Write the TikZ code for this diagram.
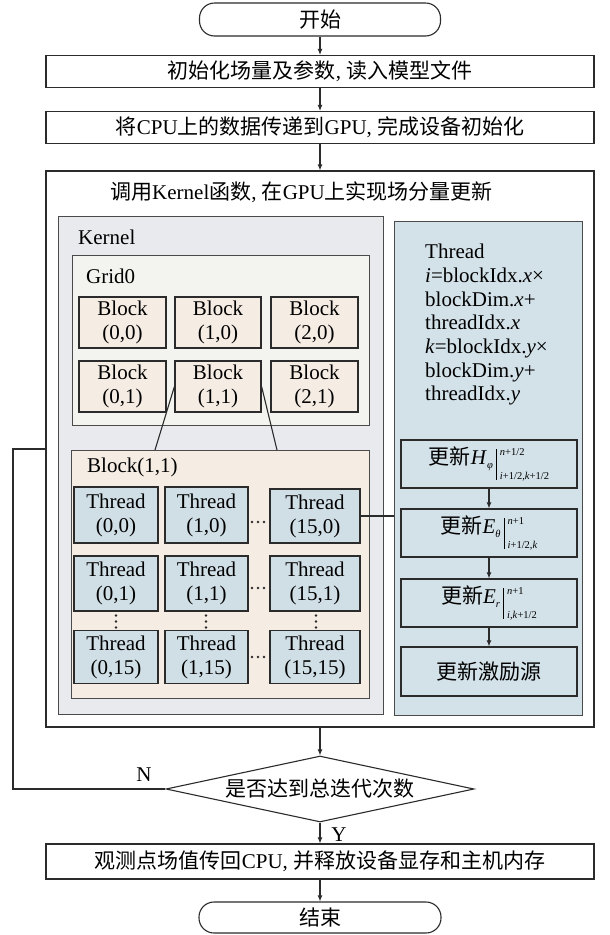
\documentclass[tikz,border=0pt]{standalone}
\usepackage{fontspec}
\setmainfont{Liberation Serif}
\newfontfamily\cjk{Noto Sans CJK SC}
\usetikzlibrary{arrows.meta,shapes.geometric,calc}
\newcommand\zh[1]{{\cjk #1}}
\newcommand\scr[1]{{\fontsize{10.5}{12}\selectfont #1}}
\newcommand\upd[4]{\zh{更新}\textit{#1}\raisebox{-4pt}{\scr{#2}}\hspace{3pt}\rule[-15pt]{1.1pt}{31pt}\hspace{3pt}\makebox[0pt][l]{\raisebox{9pt}{\scr{#3}}}\raisebox{-15pt}{\scr{#4}}}
\definecolor{kernelgray}{HTML}{E9EAEE}
\definecolor{gridcream}{HTML}{F3F4EF}
\definecolor{blockpeach}{HTML}{F5ECE4}
\definecolor{threadblue}{HTML}{D0DFE6}
\definecolor{panelblue}{HTML}{D3E1E8}
\definecolor{edge}{HTML}{2B2B2B}
\begin{document}
\begin{tikzpicture}[x=1pt,y=-1pt,
  txt/.style={font=\fontsize{21}{24}\selectfont},
  flowbox/.style={txt,draw=edge,line width=1.1pt,fill=white,inner sep=0pt,align=center},
  term/.style={flowbox,rounded corners=15pt},
  region/.style={draw=edge!85,line width=0.9pt,inner sep=0pt},
  cell/.style={txt,draw=edge,line width=1.2pt,inner sep=0pt,align=center},
  blockcell/.style={cell,fill=blockpeach},
  threadcell/.style={cell,fill=threadblue},
  updbox/.style={cell,fill=panelblue},
  lbl/.style={txt,inner sep=0pt,anchor=west},
  arr/.style={draw=edge,line width=1.1pt,-{Latex[length=6pt,width=5pt]}},
  conn/.style={draw=edge,line width=1.1pt},
  dotm/.style={fill=edge}]
\useasboundingbox (0,0) rectangle (610,935);
\fill[white] (0,0) rectangle (610,935);

% main flow
\node[term,minimum width=241,minimum height=33] (start) at (320,19.5) {\zh{开始}};
\node[flowbox,minimum width=548,minimum height=32] (init) at (320,71.5) {\zh{初始化场量及参数}, \zh{读入模型文件}};
\node[flowbox,minimum width=548,minimum height=32] (copy) at (320,127.5) {\zh{将}CPU\zh{上的数据传递到}GPU, \zh{完成设备初始化}};
\node[flowbox,minimum width=548,minimum height=556] (main) at (320,449) {};
\node[lbl] (title) at (110,192) {\zh{调用}Kernel\zh{函数}, \zh{在}GPU\zh{上实现场分量更新}};

% kernel region
\node[region,fill=kernelgray,minimum width=325,minimum height=498] (kernel) at (220.5,465) {};
\node[lbl] (klbl) at (78,237) {Kernel};
\node[region,fill=gridcream,minimum width=297,minimum height=170] (grid) at (220.5,340) {};
\node[lbl] (glbl) at (86,276) {Grid0};

\node[blockcell,minimum width=87,minimum height=51] (b00) at (122.5,322.5) {Block\\(0,0)};
\node[blockcell,minimum width=86,minimum height=51] (b10) at (218,322.5) {Block\\(1,0)};
\node[blockcell,minimum width=87,minimum height=51] (b20) at (314.5,322.5) {Block\\(2,0)};
\node[blockcell,minimum width=87,minimum height=51] (b01) at (122.5,386.5) {Block\\(0,1)};
\node[blockcell,minimum width=86,minimum height=51] (b11) at (218,386.5) {Block\\(1,1)};
\node[blockcell,minimum width=87,minimum height=51] (b21) at (314.5,386.5) {Block\\(2,1)};

\node[region,fill=blockpeach,minimum width=298,minimum height=248] (bb) at (220,574) {};
\node[lbl] (bblbl) at (87,467) {Block(1,1)};
\coordinate (bbl) at (155,450);
\coordinate (bbr) at (277,450);
\draw[conn] (b11.west) -- (bbl);
\draw[conn] (b11.east) -- (bbr);

% threads
\node[threadcell,minimum width=84,minimum height=56] (t00) at (116,515) {Thread\\(0,0)};
\node[threadcell,minimum width=83,minimum height=56] (t10) at (206.5,515) {Thread\\(1,0)};
\node[threadcell,minimum width=90,minimum height=54] (t150) at (315,516) {Thread\\(15,0)};
\node[threadcell,minimum width=84,minimum height=55] (t01) at (116,583.5) {Thread\\(0,1)};
\node[threadcell,minimum width=83,minimum height=55] (t11) at (206.5,583.5) {Thread\\(1,1)};
\node[threadcell,minimum width=90,minimum height=55] (t151) at (315,583.5) {Thread\\(15,1)};
\node[threadcell,minimum width=84,minimum height=53] (t015) at (116,657) {Thread\\(0,15)};
\node[threadcell,minimum width=83,minimum height=53] (t115) at (206.5,657) {Thread\\(1,15)};
\node[threadcell,minimum width=90,minimum height=53] (t1515) at (315,657) {Thread\\(15,15)};

% dots
\foreach \yy in {522,588,657}{
  \foreach \xx in {252,258,264}{\fill[dotm] (\xx,\yy) circle (1.3);}}
\foreach \xx in {116,206,316}{
  \foreach \yy in {615.5,621.5,627.5}{\fill[dotm] (\xx,\yy) circle (1.3);}}

% thread panel
\node[region,fill=panelblue,minimum width=188,minimum height=494] (panel) at (488,468) {};
\node[anchor=north west,inner sep=0pt,align=left,font=\fontsize{21}{23.7}\selectfont] (ptext) at (425,244)
 {Thread\\\textit{i}=blockIdx.\textit{x}×\\blockDim.\textit{x}+\\threadIdx.\textit{x}\\\textit{k}=blockIdx.\textit{y}×\\blockDim.\textit{y}+\\threadIdx.\textit{y}};
\draw[conn] (t150.east) -- (t150.east -| panel.west);

\node[updbox,minimum width=176,minimum height=48] (u1) at (489,464) {\upd{H}{\textit{φ}}{\textit{n}+1/2}{\textit{i}+1/2,\textit{k}+1/2}};
\node[updbox,minimum width=176,minimum height=48] (u2) at (489,533) {\upd{E}{\textit{θ}}{\textit{n}+1}{\textit{i}+1/2,\textit{k}}};
\node[updbox,minimum width=176,minimum height=48] (u3) at (489,603) {\upd{E}{\textit{r}}{\textit{n}+1}{\textit{i},\textit{k}+1/2}};
\node[updbox,minimum width=176,minimum height=49] (u4) at (489,671.5) {\zh{更新激励源}};
\draw[arr] (u1) -- (u2);
\draw[arr] (u2) -- (u3);
\draw[arr] (u3) -- (u4);

% decision and end
\node[diamond,draw=edge,line width=1.1pt,fill=white,aspect=4.67,inner sep=0pt,minimum width=308,minimum height=66,txt] (dia) at (320,789) {\zh{是否达到总迭代次数}};
\node[flowbox,minimum width=548,minimum height=35] (out) at (320,861.5) {\zh{观测点场值传回}CPU, \zh{并释放设备显存和主机内存}};
\node[term,minimum width=242,minimum height=31] (stop) at (320,917.5) {\zh{结束}};

\draw[arr] (start) -- (init);
\draw[arr] (init) -- (copy);
\draw[arr] (copy) -- (main);
\draw[arr] (main) -- (dia);
\draw[arr] (dia) -- (out);
\draw[arr] (out) -- (stop);
\coordinate (lc) at (13,449);
\draw[conn] (dia.west) -| (lc) -- (main.west |- lc);
\node[txt,inner sep=0pt] (nlbl) at (144,775) {N};
\node[txt,inner sep=0pt] (ylbl) at (339,835) {Y};
\end{tikzpicture}
\end{document}
